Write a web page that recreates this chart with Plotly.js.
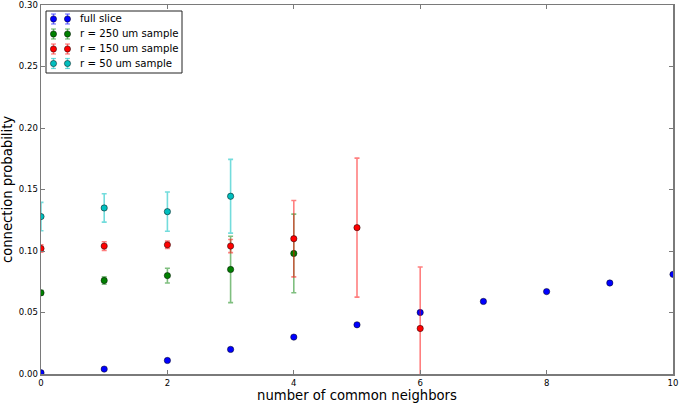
<!DOCTYPE html>
<html>
<head>
<meta charset="utf-8">
<script src="https://cdn.plot.ly/plotly-3.0.1.min.js"></script>
<style>html,body{margin:0;padding:0;background:#fff;}#chart{width:680px;height:403px;}</style>
</head>
<body>
<div id="chart"></div>
<script>
// Data
const seriesNames = ["full slice", "r = 250 um sample", "r = 150 um sample", "r = 50 um sample"];

const fullX = [0, 1, 2, 3, 4, 5, 6, 7, 8, 9, 10];
const fullY = [0.001, 0.004, 0.011, 0.020, 0.030, 0.040, 0.050, 0.059, 0.067, 0.074, 0.081];
const fullErr = [0.0005, 0.0005, 0.0005, 0.0005, 0.0005, 0.0005, 0.0005, 0.0005, 0.0005, 0.0005, 0.0005];

const r250X = [0, 1, 2, 3, 4];
const r250Y = [0.066, 0.076, 0.080, 0.085, 0.098];
const r250Err = [0.002, 0.003, 0.006, 0.027, 0.032];

const r150X = [0, 1, 2, 3, 4, 5, 6];
const r150Y = [0.102, 0.104, 0.105, 0.104, 0.110, 0.119, 0.037];
const r150Err = [0.003, 0.0035, 0.003, 0.0053, 0.031, 0.0565, 0.050];

const r50X = [0, 1, 2, 3];
const r50Y = [0.128, 0.135, 0.132, 0.1445];
const r50Err = [0.0115, 0.0115, 0.016, 0.030];

const xTicks = [0, 2, 4, 6, 8, 10];
const yTicks = [0.00, 0.05, 0.10, 0.15, 0.20, 0.25, 0.30];

const colors = ['#0000ff', '#008000', '#ff0000', '#00bfbf'];
const errColors = ['rgba(0,0,255,0.5)', 'rgba(0,128,0,0.5)', 'rgba(255,0,0,0.5)', 'rgba(0,191,191,0.55)'];

function trace(i, x, y, err) {
  return {
    type: 'scatter', mode: 'markers', name: seriesNames[i], x: x, y: y,
    marker: {color: colors[i], size: 6.3, line: {color: 'rgba(0,0,0,0.8)', width: 0.6}},
    error_y: {type: 'data', array: err, visible: true, color: errColors[i], thickness: 1.6, width: 2.5}
  };
}

const data = [
  trace(0, fullX, fullY, fullErr),
  trace(1, r250X, r250Y, r250Err),
  trace(2, r150X, r150Y, r150Err),
  trace(3, r50X, r50Y, r50Err)
];

// plot-area geometry (pixels) used to place the legend box in paper coords
const W = 680, H = 403, M = {l: 41, r: 7, t: 5, b: 29};
const pw = W - M.l - M.r, ph = H - M.t - M.b;
const px = v => (v - M.l) / pw;
const py = v => (H - M.b - v) / ph;

const shapes = [];
const annotations = [];
shapes.push({type: 'rect', xref: 'paper', yref: 'paper',
  x0: px(46), x1: px(182), y0: py(73), y1: py(11),
  line: {color: '#222', width: 1}, fillcolor: '#fff', layer: 'above'});
const rowY = [19, 34, 49, 63.5];
const symX = [53.5, 67.5];
seriesNames.forEach((name, i) => {
  const cy = rowY[i];
  symX.forEach(cx => {
    shapes.push({type: 'line', xref: 'paper', yref: 'paper', x0: px(cx), x1: px(cx), y0: py(cy - 5), y1: py(cy + 5),
      line: {color: errColors[i], width: 1.6}, layer: 'above'});
    [cy - 5, cy + 5].forEach(ey => shapes.push({type: 'line', xref: 'paper', yref: 'paper',
      x0: px(cx - 2.5), x1: px(cx + 2.5), y0: py(ey), y1: py(ey),
      line: {color: errColors[i], width: 1.2}, layer: 'above'}));
    shapes.push({type: 'circle', xref: 'paper', yref: 'paper',
      x0: px(cx - 3.1), x1: px(cx + 3.1), y0: py(cy + 3.1), y1: py(cy - 3.1),
      fillcolor: colors[i], line: {color: 'rgba(0,0,0,0.8)', width: 0.6}, layer: 'above'});
  });
  annotations.push({xref: 'paper', yref: 'paper', x: px(77.5), y: py(cy), xanchor: 'left', yanchor: 'middle',
    text: name, showarrow: false, font: {family: 'DejaVu Sans', size: 10.2, color: '#000'}});
});

const axisCommon = {
  showline: true, linecolor: '#7a7a7a', linewidth: 1.5, mirror: 'ticks',
  ticks: 'inside', ticklen: 4, tickcolor: '#7a7a7a', showgrid: false, zeroline: false,
  ticklabeloverflow: 'allow',
  tickfont: {family: 'DejaVu Sans', size: 8.5, color: '#000'}
};

const layout = {
  width: W, height: H,
  margin: M,
  paper_bgcolor: '#fff', plot_bgcolor: '#fff',
  font: {family: 'DejaVu Sans', color: '#000'},
  xaxis: Object.assign({}, axisCommon, {
    range: [0, 10], tickvals: xTicks, ticktext: xTicks.map(String),
    title: {text: 'number of common neighbors', font: {size: 13.2}, standoff: 3}
  }),
  yaxis: Object.assign({}, axisCommon, {
    range: [0, 0.3000001], tickvals: yTicks, ticktext: yTicks.map(v => v.toFixed(2)),
    title: {text: 'connection probability', font: {size: 13.2}, standoff: 5}
  }),
  showlegend: false,
  shapes: shapes,
  annotations: annotations
};

Plotly.newPlot('chart', data, layout, {displayModeBar: false, staticPlot: true});
</script>
</body>
</html>
